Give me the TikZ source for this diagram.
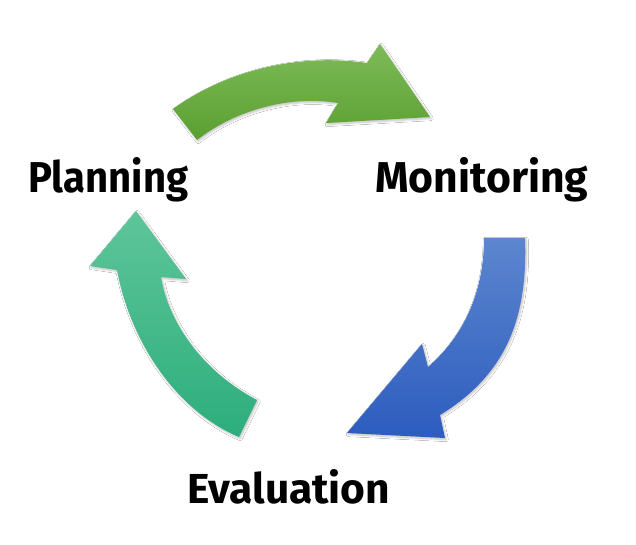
\documentclass[tikz,border=0pt]{standalone}
\usepackage{fontspec}
\setmainfont{Fira Sans}
\usetikzlibrary{shadows.blur}
\definecolor{gtop}{HTML}{7EBB58}
\definecolor{gbot}{HTML}{5A9F30}
\definecolor{btop}{HTML}{5D86CF}
\definecolor{bbot}{HTML}{2C5CBE}
\definecolor{ttop}{HTML}{5EC59A}
\definecolor{tbot}{HTML}{2DAE7C}
\begin{document}
\begin{tikzpicture}[x=1pt,y=-1pt,
  lbl/.style={inner sep=0pt, anchor=base west, font=\bfseries},
  arrowshape/.style={blur shadow={shadow xshift=1.2pt, shadow yshift=-1.5pt, shadow blur steps=6, shadow opacity=25}}]
\useasboundingbox (0,0) rectangle (636,544);
\fill[white] (0,0) rectangle (636,544);
% green arrow (Planning -> Monitoring)
\shade[arrowshape, top color=gtop, bottom color=gbot]
  (173,109) .. controls (220,75) and (290,52) .. (367,63)
  -- (380,44) -- (430,117) -- (326,123) -- (338,103)
  .. controls (290,95) and (235,110) .. (197,140) -- cycle;
% blue arrow (Monitoring -> Evaluation)
\shade[arrowshape, top color=btop, bottom color=bbot]
  (484,238) -- (525,238) .. controls (528,320) and (505,375) .. (440,415)
  -- (445,438) -- (347,433) -- (422,344) -- (428,367)
  .. controls (465,335) and (484,290) .. (484,238) -- cycle;
% teal arrow (Evaluation -> Planning)
\shade[arrowshape, top color=ttop, bottom color=tbot]
  (257,400) -- (239,437) .. controls (175,410) and (130,340) .. (117,270)
  -- (90,266) -- (136,211) -- (186,279) -- (161,277)
  .. controls (168,320) and (200,370) .. (257,400) -- cycle;
% labels
\node[lbl] (plan) at (28,192) {\resizebox{160pt}{35pt}{Planning}};
\node[lbl] (mon) at (375,192) {\resizebox{213pt}{35pt}{Monitoring}};
\node[lbl] (eval) at (187,503) {\resizebox{203pt}{34pt}{Evaluation}};
\end{tikzpicture}
\end{document}
